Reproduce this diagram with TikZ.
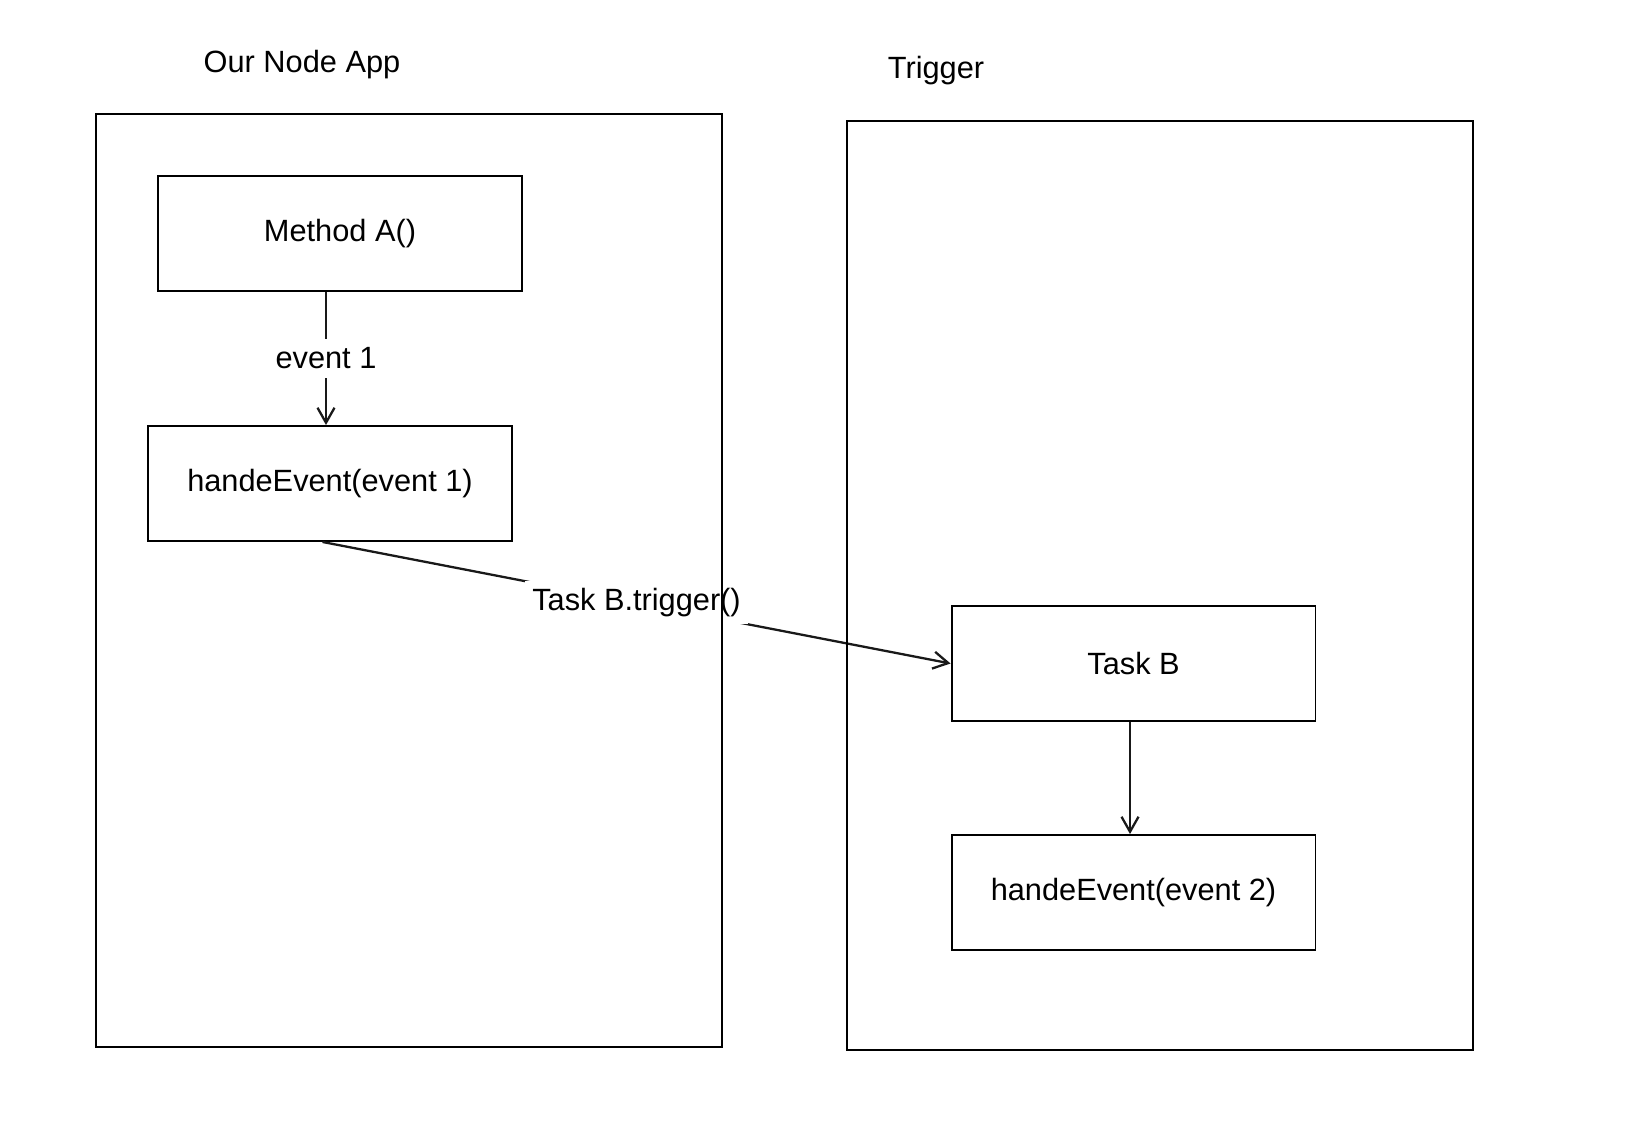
\documentclass[tikz,border=0pt]{standalone}
\usepackage{fontspec}
\setmainfont{Liberation Sans}
\usetikzlibrary{
  arrows.meta
}

\begin{document}
\begin{tikzpicture}[
  x=0.02cm,y=-0.02cm,
  >={Straight Barb[length=0.3cm,width=0.34cm]},
  every node/.style={font=\fontsize{17.5}{21}\selectfont},
  box/.style={draw,line width=1.1pt,minimum width=7.28cm,minimum height=2.3cm},
  flow/.style={->,line width=1.3pt,draw=black!90},
  frame/.style={draw,line width=1.1pt,minimum width=12.52cm}
]
\useasboundingbox (0,0) rectangle (1642,1130);

%--------------------
% Our Node App
%--------------------
\node (applabel) at (302,65) {Our Node App};
\node[box] (methodA) at (340,233.5) {Method A()};
\node[box] (handle1) at (330,483.5) {handeEvent(event 1)};

\draw[flow] ([xshift=-0.08cm]handle1.north |- methodA.south)
  -- ([xshift=-0.08cm]handle1.north)
  node[midway,fill=white,inner sep=5pt] {event 1};

%--------------------
% Trigger
%--------------------
\node (triglabel) at (936,71) {Trigger};
\node[box] (taskB) at (1133.5,663.5) {Task B};
\node[box] (handle2) at (1133.5,892.5) {handeEvent(event 2)};

\draw[flow] ([xshift=-0.07cm]taskB.south) -- ([xshift=-0.07cm]handle2.north);

% 呼び出し
\draw[flow] ([xshift=-0.15cm]handle1.south) -- (taskB.west)
  node[midway,fill=white,inner sep=4pt] {Task B.trigger()};

% 枠は最後に描く
\node[frame,minimum height=18.66cm] (appframe) at (409,580.5) {};
\node[frame,minimum height=18.58cm] (trigframe) at (1160,585.5) {};

\end{tikzpicture}
\end{document}
